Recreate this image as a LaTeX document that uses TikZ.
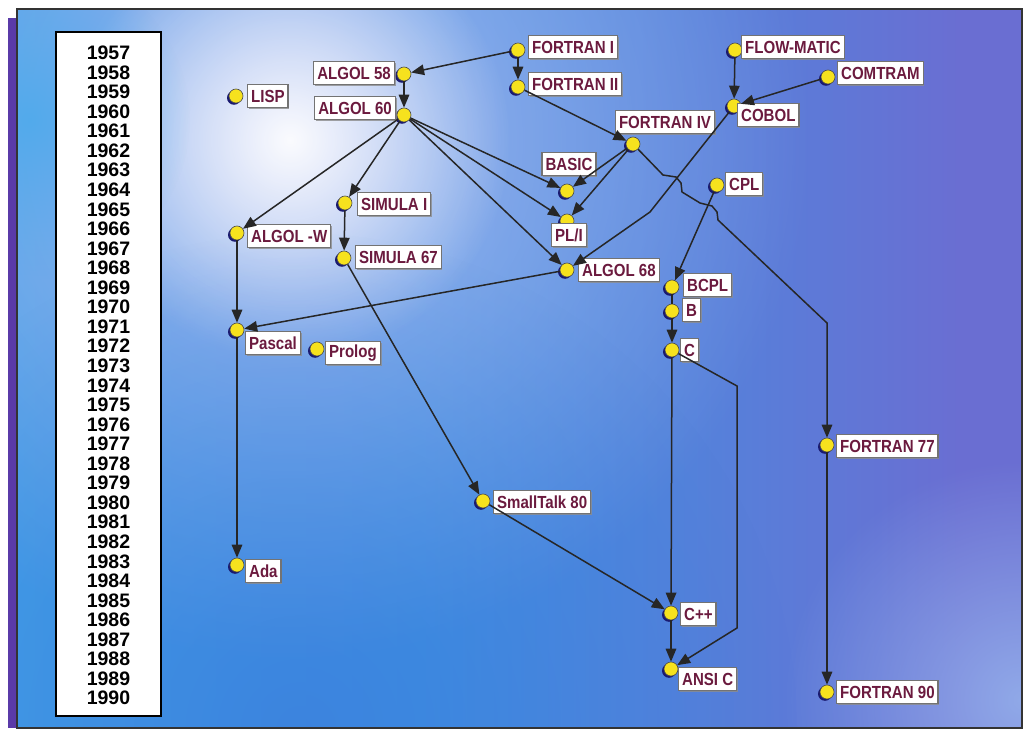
\documentclass[tikz,border=0pt]{standalone}
\usepackage{fontspec}
\setmainfont{Liberation Sans}
\newfontfamily\labfont{Liberation Sans}[FakeStretch=0.86]
\usetikzlibrary{arrows.meta,shadows,fadings}
\definecolor{labcol}{HTML}{6B1A3E}
\definecolor{dotyellow}{HTML}{F6E21E}
\definecolor{navy}{HTML}{1A1A70}
\definecolor{bgA}{HTML}{44AAEC}
\definecolor{bgB}{HTML}{3E96E4}
\definecolor{bgC}{HTML}{6A6ED2}
\definecolor{bgD}{HTML}{3A6FD8}
\definecolor{bgE}{HTML}{9AB8EE}
\definecolor{lav}{HTML}{B4BAF0}
\definecolor{strip}{HTML}{5A3AA8}
\pgfdeclarehorizontalshading{bgshade}{100bp}{color(0bp)=(bgA); color(45bp)=(bgB); color(72bp)=(bgC); color(100bp)=(bgC)}
\tikzfading[name=glowfade, inner color=transparent!0, outer color=transparent!100]
\begin{document}
\begin{tikzpicture}[x=1pt,y=-1pt,
  dot/.style={circle, inner sep=0pt, minimum size=14pt, fill=dotyellow, draw=black!70, line width=0.6pt,
    drop shadow={shadow xshift=-2pt, shadow yshift=-1.8pt, fill=navy, opacity=1}},
  lab/.style={draw=black!55, line width=1.3pt, fill=white, text=labcol,
    font=\labfont\bfseries\fontsize{17.5}{17.5}\selectfont, inner xsep=3.5pt, inner ysep=2pt,
    minimum height=23pt,
    drop shadow={shadow xshift=1.2pt, shadow yshift=-1.2pt, fill=black!45, opacity=0.8}},
  year/.style={font=\bfseries\fontsize{19.5}{19.5}\selectfont, text=black, inner sep=0pt},
  edge/.style={draw=black!85, line width=1.5pt, -{Triangle[length=13pt,width=10.5pt]}},
  plain/.style={draw=black!85, line width=1.5pt}]
\useasboundingbox (0,0) rectangle (1026,730);
\fill[white] (0,0) rectangle (1026,730);
\fill[strip] (8,18) rectangle (18,728);
\shade[shading=bgshade] (17,9) rectangle (1022,728);
\begin{scope}
  \clip (17,9) rectangle (1022,728);
  \fill[lav, path fading=glowfade, opacity=0.9] (290,140) circle (520);
  \fill[white, path fading=glowfade, opacity=0.95] (290,140) circle (220);
  \fill[bgA, path fading=glowfade, opacity=0.7] (30,120) circle (160);
  \fill[bgD, path fading=glowfade, opacity=0.5] (300,730) circle (500);
  \fill[bgE, path fading=glowfade, opacity=0.8] (1022,700) circle (240);
\end{scope}
\draw[line width=1.6pt, black!80] (17,9) rectangle (1022,728);
% year column
\draw[line width=1.8pt, black, fill=white] (56,32) rectangle (161,716);
\foreach \i in {0,...,33}{
  \pgfmathtruncatemacro{\yr}{1957+\i}
  \node[year] (y\yr) at (108.5,{53+19.55*\i}) {\yr};
}
% dots
\node[dot] (lisp) at (236,96) {};
\node[dot] (a58) at (404,74) {};
\node[dot] (a60) at (404,115) {};
\node[dot] (f1) at (518,50) {};
\node[dot] (f2) at (518,87) {};
\node[dot] (fm) at (735,50) {};
\node[dot] (ct) at (828,77) {};
\node[dot] (cobol) at (734,106) {};
\node[dot] (f4) at (633,144) {};
\node[dot] (basic) at (567,191) {};
\node[dot] (cpl) at (717,185) {};
\node[dot] (pl1) at (567,221) {};
\node[dot] (sim1) at (345,203) {};
\node[dot] (algw) at (237,233) {};
\node[dot] (sim67) at (344,258) {};
\node[dot] (a68) at (567,270) {};
\node[dot] (bcpl) at (672,287) {};
\node[dot] (b) at (672,311) {};
\node[dot] (c) at (672,350) {};
\node[dot] (pascal) at (237,330) {};
\node[dot] (prolog) at (317,349) {};
\node[dot] (f77) at (827,445) {};
\node[dot] (st80) at (483,501) {};
\node[dot] (ada) at (237,565) {};
\node[dot] (cpp) at (671,613) {};
\node[dot] (ansic) at (671,669) {};
\node[dot] (f90) at (827,692) {};
% labels
\node[lab, anchor=west] (lispL) at (247,96) {LISP};
\node[lab, anchor=east] (a58L) at (395,73) {ALGOL 58};
\node[lab, anchor=east] (a60L) at (396,108) {ALGOL 60};
\node[lab, anchor=west] (f1L) at (528,47) {FORTRAN I};
\node[lab, anchor=west] (f2L) at (528,84) {FORTRAN II};
\node[lab, anchor=west] (fmL) at (741,47) {FLOW-MATIC};
\node[lab, anchor=west] (ctL) at (837,73) {COMTRAM};
\node[lab, anchor=west] (cobolL) at (737,115) {COBOL};
\node[lab] (f4L) at (665,122) {FORTRAN IV};
\node[lab] (basicL) at (569,164) {BASIC};
\node[lab, anchor=west] (cplL) at (725,184) {CPL};
\node[lab] (pl1L) at (569,235) {PL/I};
\node[lab, anchor=west] (sim1L) at (357,204) {SIMULA I};
\node[lab, anchor=west] (algwL) at (247,236) {ALGOL -W};
\node[lab, anchor=west] (sim67L) at (355,257) {SIMULA 67};
\node[lab, anchor=west] (a68L) at (578,270) {ALGOL 68};
\node[lab, anchor=west] (bcplL) at (683,285) {BCPL};
\node[lab, anchor=west] (bL) at (682,310) {B};
\node[lab, anchor=west] (cL) at (680,350) {C};
\node[lab, anchor=west] (pascalL) at (245,343) {Pascal};
\node[lab, anchor=west] (prologL) at (325,353) {Prolog};
\node[lab, anchor=west] (f77L) at (836,446) {FORTRAN 77};
\node[lab, anchor=west] (st80L) at (493,502) {SmallTalk 80};
\node[lab, anchor=west] (adaL) at (245,571) {Ada};
\node[lab, anchor=west] (cppL) at (680,614) {C++};
\node[lab, anchor=west] (ansicL) at (678,679) {ANSI C};
\node[lab, anchor=west] (f90L) at (836,692) {FORTRAN 90};
% bend points
\coordinate (h1) at (663,175);
\coordinate (h2) at (676,177);
\coordinate (h3) at (681,183);
\coordinate (h4) at (682,192);
\coordinate (h5) at (700,203);
\coordinate (h6) at (712,206);
\coordinate (h7) at (717,212);
\coordinate (h8) at (718,220);
\coordinate (h9) at (827,323);
\coordinate (cb) at (650,212);
\coordinate (ca) at (737,386);
\coordinate (cc) at (737,628);
% connectors
\draw[edge] (f1) -- (a58);
\draw[edge] (f1) -- (f2);
\draw[edge] (a58) -- (a60);
\draw[edge] (f2) -- (f4);
\draw[edge] (fm) -- (cobol);
\draw[edge] (ct) -- (cobol);
\draw[edge] (a60) -- (algw);
\draw[edge] (a60) -- (sim1);
\draw[edge] (a60) -- (basic);
\draw[edge] (a60) -- (pl1);
\draw[edge] (a60) -- (a68);
\draw[edge] (f4) -- (basic);
\draw[edge] (f4) -- (pl1);
\draw[edge] (f4) -- (h1) -- (h2) -- (h3) -- (h4) -- (h5) -- (h6) -- (h7) -- (h8) -- (h9) -- (f77);
\draw[edge] (cobol) -- (cb) -- (a68);
\draw[edge] (cpl) -- (bcpl);
\draw[plain] (bcpl) -- (b);
\draw[edge] (b) -- (c);
\draw[edge] (a68) -- (pascal);
\draw[edge] (algw) -- (pascal);
\draw[edge] (sim1) -- (sim67);
\draw[edge] (sim67) -- (st80);
\draw[edge] (pascal) -- (ada);
\draw[edge] (c) -- (cpp);
\draw[edge] (st80) -- (cpp);
\draw[edge] (cpp) -- (ansic);
\draw[edge] (c) -- (ca) -- (cc) -- (ansic);
\draw[edge] (f77) -- (f90);
\end{tikzpicture}
\end{document}
